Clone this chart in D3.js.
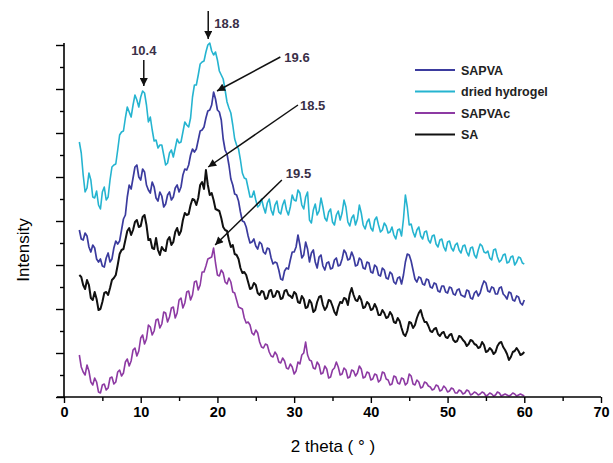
<!DOCTYPE html>
<html>
<head>
<meta charset="utf-8">
<script src="https://cdn.jsdelivr.net/npm/d3@7"></script>
<style>
body { margin: 0; background: #fff; }
svg { display: block; font-family: "Liberation Sans", Arial, sans-serif; }
</style>
</head>
<body>
<svg width="613" height="463"></svg>
<script>
// 2 theta scan, degrees
var twoTheta = [2,2.25,2.5,2.75,3,3.25,3.5,3.75,4,4.25,4.5,4.75,5,5.25,5.5,5.75,6,6.25,6.5,6.75,7,7.25,7.5,7.75,8,8.25,8.5,8.75,9,9.25,9.5,9.75,10,10.25,10.5,10.75,11,11.25,11.5,11.75,
  12,12.25,12.5,12.75,13,13.25,13.5,13.75,14,14.25,14.5,14.75,15,15.25,15.5,15.75,16,16.25,16.5,16.75,17,17.25,17.5,17.75,18,18.25,18.5,18.75,19,19.25,19.5,19.75,20,20.25,20.5,20.75,21,21.25,21.5,21.75,
  22,22.25,22.5,22.75,23,23.25,23.5,23.75,24,24.25,24.5,24.75,25,25.25,25.5,25.75,26,26.25,26.5,26.75,27,27.25,27.5,27.75,28,28.25,28.5,28.75,29,29.25,29.5,29.75,30,30.25,30.5,30.75,31,31.25,31.5,31.75,
  32,32.25,32.5,32.75,33,33.25,33.5,33.75,34,34.25,34.5,34.75,35,35.25,35.5,35.75,36,36.25,36.5,36.75,37,37.25,37.5,37.75,38,38.25,38.5,38.75,39,39.25,39.5,39.75,40,40.25,40.5,40.75,41,41.25,41.5,41.75,
  42,42.25,42.5,42.75,43,43.25,43.5,43.75,44,44.25,44.5,44.75,45,45.25,45.5,45.75,46,46.25,46.5,46.75,47,47.25,47.5,47.75,48,48.25,48.5,48.75,49,49.25,49.5,49.75,50,50.25,50.5,50.75,51,51.25,51.5,51.75,
  52,52.25,52.5,52.75,53,53.25,53.5,53.75,54,54.25,54.5,54.75,55,55.25,55.5,55.75,56,56.25,56.5,56.75,57,57.25,57.5,57.75,58,58.25,58.5,58.75,59,59.25,59.5,59.75,60];

// intensities (a.u., curves offset as in the figure)
var sapva = [167,158,157,164,161,150,145,152,149,138,135,138,131,130,139,144,135,138,149,156,153,156,167,178,182,200,212,208,219,230,232,220,217,228,225,212,207,204,215,210,
  199,196,205,201,190,193,202,205,197,200,209,212,205,210,222,228,227,232,242,248,245,248,257,266,267,270,279,286,287,292,305,298,287,285,277,258,247,243,232,218,
  212,203,202,196,185,176,175,170,161,154,155,158,151,148,155,153,145,143,149,148,139,133,135,134,127,118,117,126,129,128,137,145,145,150,162,152,139,142,155,148,
  135,144,147,135,129,140,142,131,127,134,135,128,129,137,139,131,132,138,147,144,137,138,145,140,131,132,139,137,129,128,135,134,125,124,132,130,122,121,129,127,
  119,118,125,123,115,113,119,120,113,122,135,143,142,136,127,118,115,120,119,113,112,118,117,110,109,114,113,106,105,111,111,105,104,110,109,103,102,107,108,102,
  101,100,107,106,99,98,104,106,101,104,111,116,114,106,105,110,109,103,103,109,110,103,101,98,105,104,97,96,101,100,94,92,97];

var driedHydrogel = [255,244,222,205,209,224,217,200,199,206,192,188,205,210,197,200,217,230,232,233,247,262,265,266,279,290,285,280,292,302,297,290,300,306,304,292,275,280,267,256,
  257,249,252,252,242,232,234,244,247,240,249,258,254,255,265,275,272,270,279,300,312,312,322,333,335,336,345,352,354,346,342,345,337,326,322,318,307,295,289,284,
  272,258,252,248,237,224,219,218,209,200,200,206,197,190,192,198,190,184,194,198,187,182,192,196,185,183,192,197,187,182,190,202,197,196,207,204,192,188,200,205,
  177,174,187,193,182,186,199,190,179,176,185,188,175,172,182,186,177,184,197,190,175,171,179,182,172,178,192,184,172,168,175,178,169,166,177,180,172,165,167,174,
  171,164,165,170,162,158,167,168,161,178,202,190,172,173,165,160,167,170,161,158,165,166,157,154,161,162,153,150,157,158,150,146,155,156,149,146,152,154,147,144,
  151,152,145,141,149,150,142,139,147,153,151,145,144,146,139,137,147,148,140,135,137,142,143,134,135,140,141,132,135,140,139,134,133];

var sapvac = [42,30,25,22,32,26,15,12,19,15,5,4,12,13,7,9,19,20,13,15,25,27,21,24,35,38,31,36,47,49,41,46,59,62,53,58,72,70,62,66,
  77,78,69,73,85,84,75,80,89,90,79,84,97,99,89,94,105,106,97,102,115,116,107,112,125,125,131,138,139,140,149,134,122,121,127,124,115,113,119,115,
  105,104,97,90,89,88,79,74,75,72,64,62,67,64,55,50,49,53,52,45,41,40,45,42,35,34,39,36,29,28,33,30,23,26,35,33,42,44,55,42,
  37,36,29,28,35,32,23,24,31,28,19,20,27,29,35,30,22,23,29,27,19,20,27,26,21,24,31,28,19,20,25,24,17,18,23,22,15,17,25,24,
  18,17,12,13,21,20,14,13,19,18,12,14,23,21,13,12,17,15,9,10,15,14,11,10,7,8,12,11,6,7,11,9,5,6,9,8,4,4,7,6,
  3,4,7,6,2,3,5,4,2,3,5,4,1,2,4,3,1,2,5,4,1,2,3,2,1,2,4,3,1,2,3,2,1];

var sa = [122,120,112,108,117,112,99,97,105,98,87,88,95,104,105,102,109,117,119,122,132,143,147,148,157,166,169,162,167,175,177,170,171,180,182,172,157,158,149,148,
  159,147,142,150,147,146,157,160,152,155,165,169,162,166,177,184,182,183,192,198,197,192,199,212,215,208,227,212,202,204,197,188,187,186,179,170,167,166,157,150,
  152,143,142,138,129,124,125,122,115,108,109,114,112,104,102,106,105,98,99,106,107,100,101,106,105,98,99,106,107,102,101,99,105,103,95,94,101,98,89,90,
  97,94,85,87,95,100,101,92,87,90,97,96,91,85,82,90,95,94,99,98,92,103,109,102,97,96,101,97,89,90,95,93,87,88,93,89,82,82,87,84,
  79,80,85,82,75,74,79,76,69,63,61,66,75,74,69,72,79,84,87,80,75,75,71,66,65,68,69,63,61,64,65,60,59,62,63,57,55,56,61,60,
  57,55,51,53,57,56,53,52,49,50,55,52,45,46,49,47,43,45,51,54,55,50,47,43,37,40,45,46,49,46,42,43,45];

var seriesNames = ["SAPVA", "dried hydrogel", "SAPVAc", "SA"];
var xTicks = [0,5,10,15,20,25,30,35,40,45,50,55,60,65,70];
var peakLabels = ["10.4", "18.8", "19.6", "18.5", "19.5"];

var colors = ["#3b3b9e", "#25b4d0", "#8d3aa3", "#111111"];
var widths = [1.7, 1.6, 1.6, 2];
var allSeries = [sapva, driedHydrogel, sapvac, sa];

var svg = d3.select("svg");
svg.append("rect").attr("width", 613).attr("height", 463).attr("fill", "#fff");

var x = d3.scaleLinear().domain([0, 70]).range([64, 601]);
var y = d3.scaleLinear().domain([0, 354]).range([397, 43]);

// curves
var line = d3.line()
  .x(function(d, i) { return x(twoTheta[i]); })
  .y(function(d) { return y(d); });

var order = [1, 0, 2, 3];
order.forEach(function(k) {
  svg.append("path")
    .datum(allSeries[k])
    .attr("fill", "none")
    .attr("stroke", colors[k])
    .attr("stroke-width", widths[k])
    .attr("stroke-linejoin", "round")
    .attr("d", line);
});

// x axis
var xAxis = d3.axisBottom(x)
  .tickValues(xTicks)
  .tickSize(6)
  .tickFormat(function(d) { return d % 10 === 0 ? d : ""; });
var gx = svg.append("g").attr("transform", "translate(0,397)").call(xAxis);
gx.select(".domain").attr("d", "M57,0H601").attr("stroke", "#000").attr("stroke-width", 1.6);
gx.selectAll(".tick line").attr("stroke", "#000").attr("stroke-width", 1.4)
  .attr("y2", function(d) { return d % 10 === 0 ? 6 : 4; });
gx.selectAll(".tick text")
  .attr("y", 10)
  .attr("font-size", 14.5).attr("font-weight", "bold")
  .attr("font-family", "'Liberation Sans', Arial, sans-serif")
  .attr("fill", "#000");

// y axis (no labels)
var yAxis = d3.axisLeft(y)
  .tickValues(d3.range(0, 355, 22))
  .tickFormat("");
var gy = svg.append("g").attr("transform", "translate(64,0)").call(yAxis);
gy.select(".domain").attr("d", "M0,397V43").attr("stroke", "#000").attr("stroke-width", 1.6);
gy.selectAll(".tick line").attr("stroke", "#000").attr("stroke-width", 1.4)
  .attr("x2", function(d, i) { return i % 2 === 0 ? -8 : -4; });

// axis titles
svg.append("text")
  .attr("x", 333).attr("y", 452)
  .attr("text-anchor", "middle")
  .attr("font-size", 17)
  .text("2 theta ( \u00b0 )");

svg.append("text")
  .attr("transform", "translate(29,250) rotate(-90)")
  .attr("text-anchor", "middle")
  .attr("font-size", 17)
  .text("Intensity");

// legend
var legend = svg.append("g");
seriesNames.forEach(function(name, i) {
  var ly = 70 + i * 21.5;
  legend.append("line")
    .attr("x1", 415).attr("x2", 455).attr("y1", ly).attr("y2", ly)
    .attr("stroke", colors[i]).attr("stroke-width", 2);
  legend.append("text")
    .attr("x", 461).attr("y", ly).attr("dy", "0.36em")
    .attr("font-size", 12.5).attr("font-weight", "bold")
    .attr("fill", "#222")
    .text(name);
});

// peak annotations: arrow tip/tail in data units, label offset in px
var defs = svg.append("defs");
defs.append("marker")
  .attr("id", "head")
  .attr("viewBox", "0 0 10 10")
  .attr("refX", 10).attr("refY", 5)
  .attr("markerUnits", "userSpaceOnUse")
  .attr("markerWidth", 9).attr("markerHeight", 8)
  .attr("orient", "auto")
  .append("path").attr("d", "M0,0L10,5L0,10z").attr("fill", "#111");

var notes = [
  { tip: [10.4, 311], tail: [10.4, 337], dx: 0, dy: -5, anchor: "middle" },
  { tip: [18.8, 358], tail: [18.8, 386], dx: 6, dy: 17, anchor: "start" },
  { tip: [19.95, 306], tail: [28.2, 340], dx: 4, dy: 5, anchor: "start" },
  { tip: [18.8, 230], tail: [30.5, 292], dx: 2, dy: 5, anchor: "start" },
  { tip: [19.7, 152], tail: [28.4, 217], dx: 4, dy: -2, anchor: "start" }
];
notes.forEach(function(n, i) {
  svg.append("line")
    .attr("x1", x(n.tail[0])).attr("y1", y(n.tail[1]))
    .attr("x2", x(n.tip[0])).attr("y2", y(n.tip[1]))
    .attr("stroke", "#111").attr("stroke-width", 1.5)
    .attr("marker-end", "url(#head)");
  svg.append("text")
    .attr("x", x(n.tail[0]) + n.dx).attr("y", y(n.tail[1]) + n.dy)
    .attr("text-anchor", n.anchor)
    .attr("font-size", 13).attr("font-weight", "bold")
    .attr("fill", "#3a3048")
    .text(peakLabels[i]);
});
</script>
</body>
</html>
